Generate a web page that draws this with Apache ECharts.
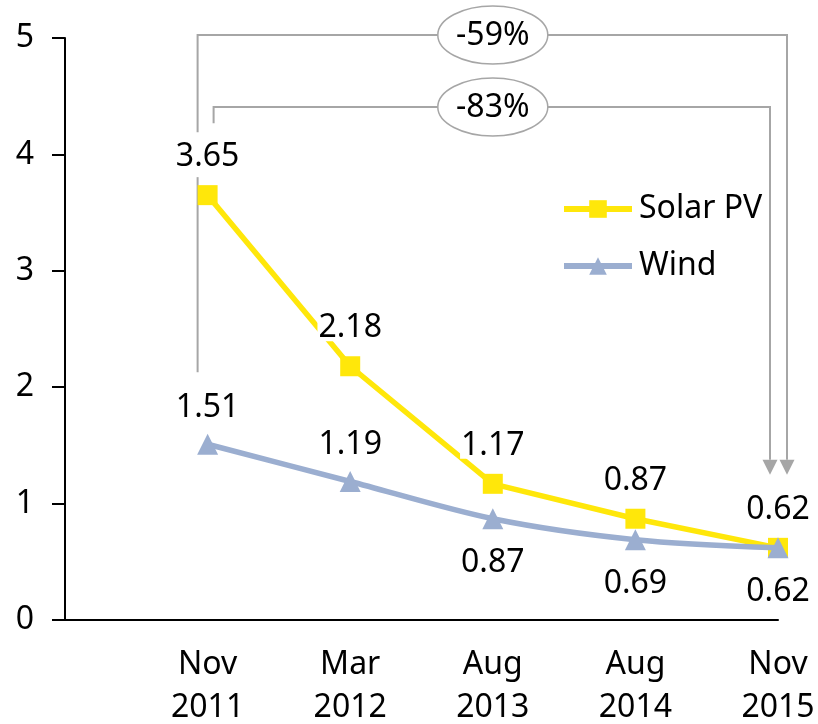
<!DOCTYPE html>
<html>
<head>
<meta charset="utf-8">
<script src="https://cdn.jsdelivr.net/npm/echarts@6/dist/echarts.min.js"></script>
<style>
  html, body { margin: 0; padding: 0; background: #fff; }
  #chart { width: 818px; height: 724px; }
</style>
</head>
<body>
<div id="chart"></div>
<script>
// Cost per unit over time for two technologies
const categories = ['Nov\n2011', 'Mar\n2012', 'Aug\n2013', 'Aug\n2014', 'Nov\n2015'];
const solarPV = [3.65, 2.18, 1.17, 0.87, 0.62];
const wind = [1.51, 1.19, 0.87, 0.69, 0.62];
const windLabelSide = ['top', 'top', 'bottom', 'bottom', 'bottom'];
const changeLabels = ['-59%', '-83%'];

const FONT = '"Noto Sans", "DejaVu Sans", sans-serif';
const SOLAR_COLOR = '#FFE70A';
const WIND_COLOR = '#9BAED0';
const NOTE_COLOR = '#A6A6A6';

const chart = echarts.init(document.getElementById('chart'));

const option = {
  animation: false,
  backgroundColor: '#ffffff',
  textStyle: { fontFamily: FONT },
  grid: { left: 65, right: 40, top: 38, bottom: 104, containLabel: false, outerBoundsMode: 'none' },
  xAxis: {
    type: 'value',
    min: -1,
    max: 4,
    interval: 1,
    axisLine: { show: true, onZero: false, lineStyle: { color: '#000', width: 2 } },
    axisTick: { show: false },
    splitLine: { show: false },
    axisLabel: {
      fontFamily: FONT,
      fontSize: 32,
      lineHeight: 43,
      color: '#000',
      margin: 23,
      showMinLabel: true,
      showMaxLabel: true,
      formatter: function (v) {
        const i = Math.round(v);
        return (i >= 0 && i < categories.length) ? categories[i] : '';
      }
    }
  },
  yAxis: {
    type: 'value',
    min: 0,
    max: 5,
    interval: 1,
    axisLine: { show: true, onZero: false, lineStyle: { color: '#000', width: 2 } },
    axisTick: { show: true, inside: false, length: 13, lineStyle: { color: '#000', width: 2 } },
    splitLine: { show: false },
    axisLabel: { fontFamily: FONT, fontSize: 32, color: '#000', margin: 31 }
  },
  legend: {
    orient: 'vertical',
    left: 556,
    top: 184,
    padding: 5,
    itemWidth: 68,
    itemHeight: 22,
    itemGap: 17,
    lineStyle: { width: 6 },
    textStyle: { fontFamily: FONT, fontSize: 32, color: '#000', lineHeight: 40, padding: [0, 0, 0, 2] },
    data: ['Solar PV', 'Wind']
  },
  series: [
    {
      name: 'Solar PV',
      type: 'line',
      clip: false,
      z: 3,
      symbol: 'rect',
      symbolSize: 20,
      lineStyle: { color: SOLAR_COLOR, width: 5.5 },
      itemStyle: { color: SOLAR_COLOR },
      label: {
        show: true,
        position: 'top',
        distance: 15,
        fontFamily: FONT,
        fontSize: 32,
        lineHeight: 26,
        color: '#000',
        backgroundColor: '#fff',
        padding: [0, 1]
      },
      data: solarPV.map((v, i) => [i, v])
    },
    {
      name: 'Wind',
      type: 'line',
      clip: false,
      z: 4,
      smooth: 0.3,
      symbol: 'triangle',
      symbolSize: 21,
      lineStyle: { color: WIND_COLOR, width: 5.5 },
      itemStyle: { color: WIND_COLOR },
      label: {
        show: true,
        fontFamily: FONT,
        fontSize: 32,
        lineHeight: 26,
        color: '#000'
      },
      data: wind.map((v, i) => ({
        value: [i, v],
        label: { position: windLabelSide[i], distance: windLabelSide[i] === 'top' ? 13 : 21 }
      }))
    }
  ]
};

chart.setOption(option);

// Bracket annotations showing the overall change, anchored to the plotted points
const px = (x, y) => chart.convertToPixel({ gridIndex: 0 }, [x, y]);
const lastIdx = categories.length - 1;
const firstSolar = px(0, solarPV[0]);
const firstWind = px(0, wind[0]);
const endSolar = px(lastIdx, solarPV[lastIdx]);
const plotTop = px(0, 5)[1];
const midX = px(Math.floor(lastIdx / 2), 0)[0];

const xL59 = firstSolar[0] - 10, xR59 = endSolar[0] + 9;
const xL83 = firstSolar[0] + 6, xR83 = endSolar[0] - 8;
const y59 = plotTop - 3, y83 = plotTop + 69;
const tipY = endSolar[1] - 73, arrowLen = 15, arrowHalf = 7.5;
const noteLine = { stroke: NOTE_COLOR, lineWidth: 2, fill: null };

function arrow(x) {
  return {
    type: 'polygon',
    z2: 5,
    shape: { points: [[x - arrowHalf, tipY - arrowLen], [x + arrowHalf, tipY - arrowLen], [x, tipY]] },
    style: { fill: NOTE_COLOR }
  };
}
function badge(y, text) {
  return [
    { type: 'ellipse', z2: 10, shape: { cx: midX, cy: y, rx: 55, ry: 29 },
      style: { fill: '#fff', stroke: NOTE_COLOR, lineWidth: 1.5 } },
    { type: 'text', z2: 20, style: { text: text, x: midX, y: y + 1, align: 'center', verticalAlign: 'middle',
      font: '32px ' + FONT, fill: '#000' } }
  ];
}

chart.setOption({
  graphic: [
    // -59% bracket (Wind)
    { type: 'polyline', z2: 1, shape: { points: [[xL59, firstWind[1] - 72], [xL59, firstSolar[1] - 18]] }, style: noteLine },
    { type: 'polyline', z2: 1, shape: { points: [[xL59, firstSolar[1] - 63], [xL59, y59], [xR59, y59], [xR59, tipY - arrowLen]] }, style: noteLine },
    arrow(xR59),
    // -83% bracket (Solar PV)
    { type: 'polyline', z2: 1, shape: { points: [[xL83, firstSolar[1] - 72], [xL83, y83], [xR83, y83], [xR83, tipY - arrowLen]] }, style: noteLine },
    arrow(xR83),
    ...badge(y59, changeLabels[0]),
    ...badge(y83, changeLabels[1])
  ]
});
</script>
</body>
</html>
